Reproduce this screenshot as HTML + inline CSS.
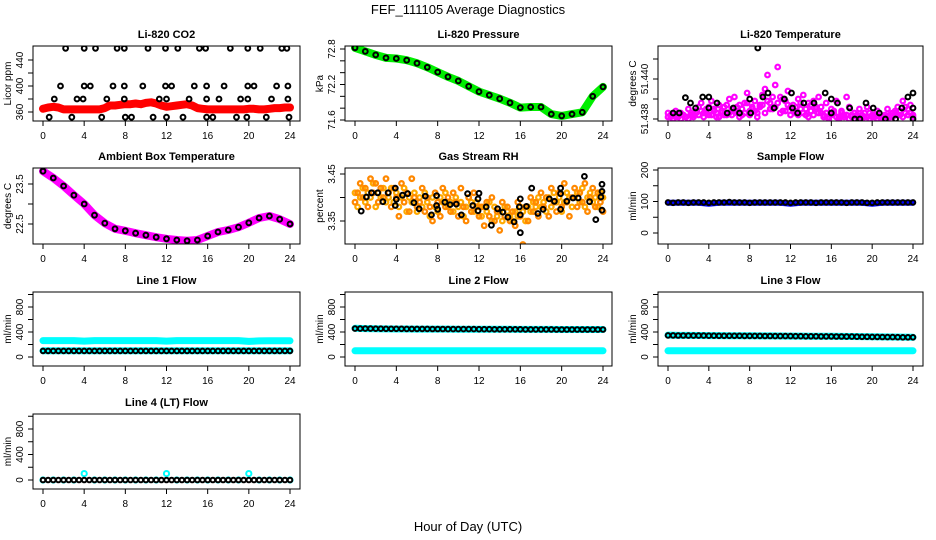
<!DOCTYPE html>
<html><head><meta charset="utf-8"><style>
html,body{margin:0;padding:0;background:#fff;}
svg{display:block;font-family:"Liberation Sans",Arial,sans-serif;}
</style></head><body>
<svg id="chart" width="936" height="540" viewBox="0 0 936 540" xmlns="http://www.w3.org/2000/svg">
<rect x="0" y="0" width="936" height="540" fill="#fff"/>
<text x="468" y="14" text-anchor="middle" font-size="13">FEF_111105  Average Diagnostics</text>
<text x="468" y="531" text-anchor="middle" font-size="13">Hour of Day (UTC)</text>
</svg>
<script>
// ---- data ----
const xTicks = [0,4,8,12,16,20,24];
const hours25 = Array.from({length:25},(_, i)=>i);
const hours49 = Array.from({length:49},(_, i)=>i*0.5);
const hours97 = Array.from({length:97},(_, i)=>i*0.25);

const co2Red = [365,367,368,367,364,364,364,364,364,364,364,364,366,370,370,371,372,372,373,372,374,375,373,370,368,369,370,371,372,370,366,365,364,364,364,364,364,364,364,364,365,365,364,364,365,366,366,367,367];
const co2BlackHours = [2.2,4.0,5.1,7.2,7.9,10.2,11.9,13.1,15.2,15.8,18.2,19.9,21.1,23.2,23.7, 1.7,4.0,4.6,6.8,7.9,9.7,11.9,12.5,14.7,15.9,17.6,19.9,20.5,22.7,23.8, 1.1,3.3,3.9,6.2,7.9,11.3,12.0,14.2,15.9,17.1,19.2,19.9,22.2,23.8, 0.6,2.8,5.7,8.0,8.6,10.7,12.0,13.6,15.9,16.5,18.8,19.8,21.7,23.9];
const co2BlackVals = [458,458,458,458,458,458,458,458,458,458,458,458,458,458,458, 400,400,400,400,400,400,400,400,400,400,400,400,400,400,400, 380,380,380,380,380,380,380,380,380,380,380,380,380,380, 352,352,352,352,352,352,352,352,352,352,352,352,352,352];

const pressure = [72.82,72.76,72.70,72.65,72.64,72.61,72.56,72.49,72.41,72.33,72.26,72.17,72.08,72.02,71.96,71.89,71.81,71.82,71.82,71.70,71.67,71.70,71.73,72.00,72.16];

const tempMag1 = [51.4383,51.4381,51.4382,51.4384,51.4381,51.4383,51.4382,51.4381,51.4385,51.4383,51.4382,51.4384,51.4386,
51.4388,51.4383,51.4385,51.4382,51.4389,51.4384,51.4381,51.4387,51.4383,51.4386,51.4382,51.4390,
51.4385,51.4391,51.4383,51.4387,51.4382,51.4388,51.4393,51.4384,51.4386,51.4389,51.4383,51.4387,
51.4392,51.4395,51.4402,51.4388,51.4385,51.4397,51.4406,51.4391,51.4384,51.4389,51.4394,51.4386,
51.4387,51.4383,51.4390,51.4385,51.4392,51.4382,51.4388,51.4384,51.4389,51.4386,51.4391,51.4383,
51.4382,51.4388,51.4381,51.4385,51.4383,51.4389,51.4381,51.4384,51.4382,51.4391,51.4386,51.4381,
51.4383,51.4381,51.4385,51.4382,51.4381,51.4386,51.4383,51.4381,51.4382,51.4384,51.4381,51.4381,
51.4382,51.4385,51.4381,51.4383,51.4384,51.4386,51.4382,51.4389,51.4383,51.4385,51.4387,51.4382];
const tempMag2 = [51.4381,51.4382,51.4380,51.4381,51.4383,51.4380,51.4382,51.4381,51.4380,51.4382,51.4381,51.4383,51.4382,
51.4384,51.4381,51.4383,51.4386,51.4382,51.4385,51.4383,51.4381,51.4384,51.4382,51.4387,51.4383,
51.4382,51.4384,51.4386,51.4381,51.4385,51.4383,51.4388,51.4382,51.4385,51.4384,51.4381,51.4386,
51.4387,51.4383,51.4389,51.4385,51.4391,51.4386,51.4388,51.4383,51.4390,51.4384,51.4387,51.4382,
51.4384,51.4386,51.4382,51.4388,51.4383,51.4385,51.4381,51.4387,51.4382,51.4385,51.4383,51.4386,
51.4381,51.4383,51.4380,51.4382,51.4384,51.4381,51.4380,51.4383,51.4381,51.4382,51.4380,51.4382,
51.4380,51.4382,51.4381,51.4380,51.4383,51.4381,51.4380,51.4382,51.4381,51.4380,51.4381,51.4380,
51.4381,51.4380,51.4382,51.4381,51.4383,51.4382,51.4384,51.4381,51.4386,51.4382,51.4383,51.4381];
const tempBlackHours = [0.5,1.1,1.7,2.2,2.7,3.4,4.0,4.0,4.8,5.8,6.4,7.0,8.0,8.1,8.8,9.3,9.8,10.4,11.4,12.1,12.2,12.7,13.3,14.3,15.4,16.0,16.0,16.6,17.8,18.3,18.8,19.4,20.1,20.7,21.3,22.3,22.9,23.5,24,24,24];
const tempBlackVals = [51.4383,51.4383,51.43907,51.4388,51.43855,51.4391,51.4391,51.43855,51.4388,51.4383,51.43855,51.4383,51.4390,51.4383,51.44155,51.4391,51.4393,51.43855,51.4390,51.4393,51.43855,51.4383,51.4388,51.4388,51.4393,51.4390,51.4383,51.4388,51.43855,51.4380,51.4380,51.4388,51.43855,51.4383,51.4380,51.4380,51.43855,51.4391,51.4393,51.43855,51.4380];

const ambient = [23.82,23.65,23.45,23.22,23.0,22.72,22.52,22.38,22.33,22.27,22.22,22.17,22.13,22.10,22.08,22.10,22.20,22.30,22.35,22.42,22.53,22.65,22.70,22.62,22.50];

const rhA = [3.39,3.41,3.43,3.40,3.42,3.38,3.44,3.41,3.43,3.39,3.42,3.40,3.44,
3.41,3.38,3.42,3.40,3.36,3.43,3.39,3.41,3.37,3.44,3.40,3.38,
3.39,3.42,3.37,3.40,3.38,3.35,3.41,3.39,3.36,3.42,3.38,3.40,
3.37,3.41,3.39,3.36,3.42,3.38,3.35,3.40,3.37,3.41,3.38,3.36,
3.38,3.34,3.39,3.36,3.40,3.35,3.37,3.33,3.39,3.36,3.38,3.35,
3.37,3.34,3.39,3.36,3.30,3.38,3.35,3.40,3.37,3.39,3.36,3.41,
3.38,3.40,3.36,3.42,3.39,3.37,3.41,3.38,3.43,3.39,3.36,3.40,
3.42,3.38,3.41,3.39,3.43,3.37,3.40,3.42,3.38,3.41,3.39,3.37];
const rhB = [3.41,3.38,3.40,3.42,3.39,3.41,3.40,3.43,3.38,3.41,3.40,3.42,3.39,
3.40,3.42,3.39,3.41,3.38,3.40,3.42,3.37,3.40,3.39,3.41,3.37,
3.40,3.38,3.41,3.39,3.36,3.40,3.38,3.37,3.40,3.39,3.41,3.38,
3.39,3.37,3.40,3.38,3.39,3.36,3.38,3.40,3.39,3.37,3.39,3.38,
3.36,3.38,3.37,3.39,3.35,3.38,3.36,3.37,3.35,3.38,3.37,3.36,
3.35,3.37,3.36,3.38,3.37,3.35,3.38,3.37,3.39,3.38,3.40,3.38,
3.39,3.37,3.40,3.38,3.41,3.39,3.40,3.37,3.39,3.41,3.40,3.38,
3.40,3.41,3.39,3.42,3.38,3.40,3.41,3.39,3.40,3.38,3.41,3.40];
const rhBlackHours = [0.6,1.1,1.6,2.2,2.7,3.2,3.9,3.9,4.0,4.6,5.1,5.7,6.2,6.8,7.4,7.9,7.9,8.0,8.7,9.2,9.8,10.3,10.9,11.4,11.9,12.0,11.9,12.7,13.2,13.8,14.3,14.8,15.4,15.9,16.0,16.0,16.0,16.6,17.1,17.7,18.2,18.8,19.3,19.9,19.9,19.9,20.5,21.1,21.6,22.2,22.7,23.3,23.8,23.9,23.9,23.9];
const rhBlackVals = [3.371,3.401,3.410,3.410,3.391,3.410,3.383,3.420,3.396,3.405,3.408,3.389,3.376,3.403,3.363,3.404,3.383,3.375,3.390,3.385,3.386,3.363,3.408,3.383,3.397,3.409,3.372,3.380,3.341,3.376,3.369,3.358,3.348,3.380,3.325,3.363,3.397,3.381,3.420,3.366,3.375,3.397,3.392,3.420,3.408,3.375,3.392,3.399,3.399,3.445,3.391,3.353,3.401,3.428,3.413,3.373];

const sampleBlue = [96,96,96,96,93,96,96,96,96,96,96,96,93,96,96,96,96,96,96,96,93,96,96,96,96];
const sampleBlack = [97,96,97,97,96,97,97,97,96,97,97,97,98,97,97,97,96,97,97,97,97,97,97,97,96,97,97,97,97,96,97,97,97,97,97,96,97,97,97,96,96,97,97,97,97,97,97,97,97];

const line1CyanHigh = [262,262,262,262,255,262,262,262,262,262,262,262,255,262,262,262,262,262,262,262,250,258,260,260,260];
const line1CyanLow = [100,100,100,100,100,100,100,100,100,100,100,100,100,100,100,100,100,100,100,100,100,100,100,100,100];
const line1Black = [98,98,98,98,98,98,98,98,98,98,98,98,98,98,98,98,98,98,98,98,98,98,98,98,98,98,98,98,98,98,98,98,98,98,98,98,98,98,98,98,98,98,98,98,98,98,98,98,98];

const line2CyanHigh = [460,455,452,450,448,448,447,447,446,446,445,445,444,444,443,443,442,442,441,441,440,440,440,440,440];
const line2CyanLow = [100,100,100,100,100,100,100,100,100,100,100,100,100,100,100,100,100,100,100,100,100,100,100,100,100];
const line2Black = [455,455,454,454,453,453,452,452,451,451,450,450,449,449,449,448,448,448,447,447,447,446,446,446,445,445,445,444,444,444,443,443,443,442,442,442,441,441,441,440,440,440,440,440,440,440,440,440,440];

const line3CyanHigh = [350,345,345,344,343,342,341,340,339,338,337,336,335,334,333,332,331,330,328,326,324,322,320,318,316];
const line3CyanLow = [100,100,100,100,100,100,100,100,100,100,100,100,100,100,100,100,100,100,100,100,100,100,100,100,100];
const line3Black = [345,345,344,344,343,343,342,342,341,341,340,340,340,339,339,338,338,337,337,336,336,335,335,334,334,333,333,332,332,331,330,330,329,328,328,327,326,325,324,323,322,321,320,319,318,317,316,315,315];

const line4Cyan = [0,0,0,0,100,0,0,0,0,0,0,0,100,0,0,0,0,0,0,0,100,0,0,0,0];
const line4Black = [0,0,0,0,0,0,0,0,0,0,0,0,0,0,0,0,0,0,0,0,0,0,0,0,0,0,0,0,0,0,0,0,0,0,0,0,0,0,0,0,0,0,0,0,0,0,0,0,0];

// ---- layout ----
const colBox = [[33,300,43,290],[345,612,355,603],[658,923,668,913]];
const rowBox = [[46,121],[168,244],[292,366],[414,489]];
const NS = 'http://www.w3.org/2000/svg';
const svg = document.getElementById('chart');

function mk(tag, attrs, parent){
  const e = document.createElementNS(NS, tag);
  for (const k in attrs) e.setAttribute(k, attrs[k]);
  parent.appendChild(e);
  return e;
}

const panels = [
 {id:'co2', title:'Li-820 CO2', col:0,row:0, ymap:[360,112,440,60], ticks:[360,380,400,420,440], labels:['360','400','440'], ylab:'Licor ppm',
  series:[{t:'line',x:hours49,y:co2Red,c:'#ff0000',w:8},{t:'pts',x:co2BlackHours,y:co2BlackVals,c:'#000',r:2.4}]},
 {id:'pressure', title:'Li-820 Pressure', col:1,row:0, ymap:[72.8,49,71.6,120], ticks:[71.6,71.8,72.0,72.2,72.4,72.6,72.8], labels:['71.6','72.2','72.8'], ylab:'kPa',
  series:[{t:'line',x:hours25,y:pressure,c:'#00ee00',w:8},{t:'pts',x:hours25,y:pressure,c:'#000',r:2.4}]},
 {id:'temperature', title:'Li-820 Temperature', col:2,row:0, ymap:[51.438,119,51.440,79], ticks:[51.438,51.439,51.440,51.441], labels:['51.438','51.440'], ylab:'degrees C',
  series:[{t:'pts',x:hours97,y:tempMag2,c:'#ff00ff',r:2.3,sw:2.2},{t:'pts',x:hours97,y:tempMag1,c:'#ff00ff',r:2.3,sw:2.2},{t:'pts',x:tempBlackHours,y:tempBlackVals,c:'#000',r:2.4}]},
 {id:'ambient', title:'Ambient Box Temperature', col:0,row:1, ymap:[23.5,184,22.5,224], ticks:[22.5,23.0,23.5], labels:['22.5','23.5'], ylab:'degrees C',
  series:[{t:'line',x:hours25,y:ambient,c:'#ff00ff',w:8},{t:'pts',x:hours25,y:ambient,c:'#000',r:2.4}]},
 {id:'rh', title:'Gas Stream RH', col:1,row:1, ymap:[3.45,174,3.35,221], ticks:[3.35,3.40,3.45], labels:['3.35','3.45'], ylab:'percent',
  series:[{t:'pts',x:hours97,y:rhB,c:'#ffaa00',r:2.3,sw:2.2},{t:'pts',x:hours97,y:rhA,c:'#ff8800',r:2.3,sw:2.2},{t:'pts',x:rhBlackHours,y:rhBlackVals,c:'#000',r:2.4}]},
 {id:'sample-flow', title:'Sample Flow', col:2,row:1, ymap:[0,233,200,170], ticks:[0,50,100,150,200], labels:['0','100','200'], ylab:'ml/min',
  series:[{t:'line',x:hours25,y:sampleBlue,c:'#0000ff',w:6},{t:'pts',x:hours49,y:sampleBlack,c:'#000',r:2.3}]},
 {id:'line1-flow', title:'Line 1 Flow', col:0,row:2, ymap:[0,357,800,307], ticks:[0,200,400,600,800,1000], labels:['0','400','800'], ylab:'ml/min',
  series:[{t:'line',x:hours25,y:line1CyanHigh,c:'#00ffff',w:7},{t:'line',x:hours25,y:line1CyanLow,c:'#00ffff',w:7},{t:'pts',x:hours49,y:line1Black,c:'#000',r:2.3}]},
 {id:'line2-flow', title:'Line 2 Flow', col:1,row:2, ymap:[0,357,800,307], ticks:[0,200,400,600,800,1000], labels:['0','400','800'], ylab:'ml/min',
  series:[{t:'line',x:hours25,y:line2CyanHigh,c:'#00ffff',w:7},{t:'line',x:hours25,y:line2CyanLow,c:'#00ffff',w:7},{t:'pts',x:hours49,y:line2Black,c:'#000',r:2.3}]},
 {id:'line3-flow', title:'Line 3 Flow', col:2,row:2, ymap:[0,357,800,307], ticks:[0,200,400,600,800,1000], labels:['0','400','800'], ylab:'ml/min',
  series:[{t:'line',x:hours25,y:line3CyanHigh,c:'#00ffff',w:7},{t:'line',x:hours25,y:line3CyanLow,c:'#00ffff',w:7},{t:'pts',x:hours49,y:line3Black,c:'#000',r:2.3}]},
 {id:'line4-flow', title:'Line 4 (LT) Flow', col:0,row:3, ymap:[0,480,800,429], ticks:[0,200,400,600,800,1000], labels:['0','400','800'], ylab:'ml/min',
  series:[{t:'pts',x:hours25,y:line4Cyan,c:'#00ffff',r:2.6,sw:2},{t:'pts',x:hours49,y:line4Black,c:'#000',r:2.3}]}
];

panels.forEach(p=>{
  const [bx0,bx1,tx0,tx24] = colBox[p.col];
  const [by0,by1] = rowBox[p.row];
  const xs = h => tx0 + h*(tx24-tx0)/24;
  const [v1,p1,v2,p2] = p.ymap;
  const ys = v => p1 + (v-v1)*(p2-p1)/(v2-v1);

  const g = mk('g',{},svg);
  
  

  const clip = mk('clipPath',{id:'clip-'+p.id},g);
  mk('rect',{x:bx0,y:by0,width:bx1-bx0,height:by1-by0},clip);

  const title = mk('text',{x:(bx0+bx1)/2,y:by0-8,'text-anchor':'middle','font-size':'11','font-weight':'bold'},g);
  title.textContent = p.title;
  
  

  const plot = mk('g',{'clip-path':'url(#clip-'+p.id+')'},g);
  
  

  p.series.forEach((s,si)=>{
    if (s.t==='line'){
      const d = s.x.map((h,i)=>(i?'L':'M')+xs(h).toFixed(1)+','+ys(s.y[i]).toFixed(1)).join(' ');
      const path = mk('path',{d:d,fill:'none',stroke:s.c,'stroke-width':s.w,'stroke-linejoin':'round','stroke-linecap':'round'},plot);
      
      
    } else {
      s.x.forEach((h,i)=>{
        const c = mk('circle',{cx:xs(h).toFixed(1),cy:ys(s.y[i]).toFixed(1),r:s.r,fill:'none',stroke:s.c,'stroke-width':s.sw||2},plot);
        
        
      });
    }
  });

  const box = mk('rect',{x:bx0,y:by0,width:bx1-bx0,height:by1-by0,fill:'none',stroke:'#000','stroke-width':1},g);
  
  

  xTicks.forEach(t=>{
    const X = xs(t);
    mk('line',{x1:X,x2:X,y1:by1,y2:by1+5,stroke:'#000','stroke-width':1},g);
    const lab = mk('text',{x:X,y:by1+18,'text-anchor':'middle','font-size':'10'},g);
    lab.textContent = String(t);
    
    
  });
  p.ticks.forEach(t=>{
    const Y = ys(t);
    mk('line',{x1:bx0-5,x2:bx0,y1:Y,y2:Y,stroke:'#000','stroke-width':1},g);
  });
  p.labels.forEach(l=>{
    const Y = ys(parseFloat(l));
    const X = bx0-10;
    const lab = mk('text',{x:X,y:Y,'text-anchor':'middle','font-size':'10',transform:'rotate(-90 '+X+' '+Y.toFixed(1)+')'},g);
    lab.textContent = l;
    
    
  });
  const yl = mk('text',{x:bx0-22,y:(by0+by1)/2,'text-anchor':'middle','font-size':'10',transform:'rotate(-90 '+(bx0-22)+' '+((by0+by1)/2)+')'},g);
  yl.textContent = p.ylab;
  
  
});
</script>
</body></html>
